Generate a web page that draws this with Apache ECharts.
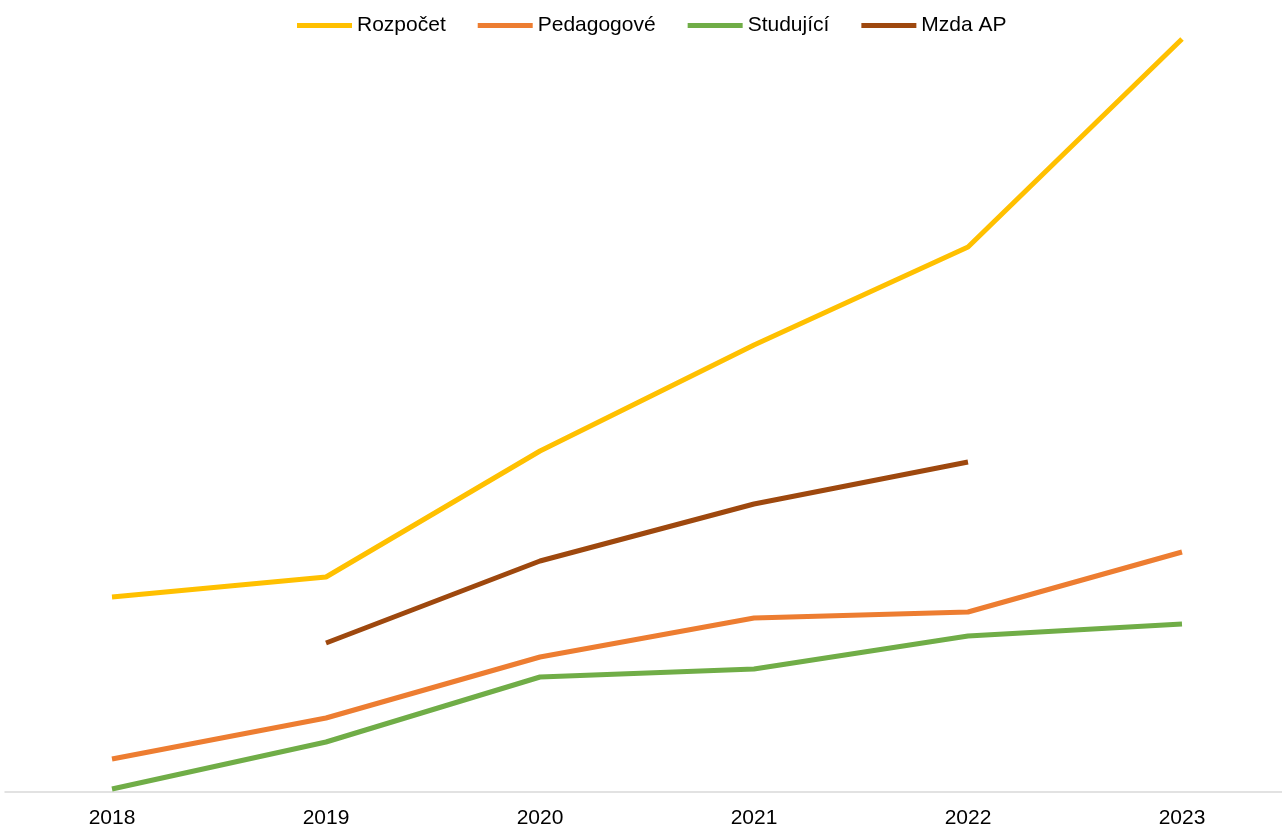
<!DOCTYPE html>
<html>
<head>
<meta charset="utf-8">
<script src="https://cdn.jsdelivr.net/npm/echarts@6/dist/echarts.min.js"></script>
<style>
  html, body { margin: 0; padding: 0; background: #fff; }
  #chart { width: 1282px; height: 827px; }
</style>
</head>
<body>
<div id="chart"></div>
<script>
// values (relative units, axis has no labels)
const years = ['2018', '2019', '2020', '2021', '2022', '2023']
const rozpocet = [195, 215, 341, 447, 545, 753]
const pedagogove = [33, 74, 135, 174, 180, 240]
const studujici = [3, 50, 115, 123, 156, 168]
const mzdaAP = [null, 149, 231, 288, 330, null]

const chart = echarts.init(document.getElementById('chart'))

function line(name, color, data) {
  return {
    name: name,
    type: 'line',
    data: data,
    showSymbol: false,
    symbol: 'none',
    lineStyle: { color: color, width: 5 },
    itemStyle: { color: color },
    emphasis: { disabled: true }
  }
}

chart.setOption({
  animation: false,
  textStyle: { fontFamily: 'Liberation Sans, Arial, sans-serif' },
  legend: {
    left: 292,
    top: 10,
    icon: 'rect',
    itemWidth: 55,
    itemHeight: 5,
    itemGap: 32,
    textStyle: { fontSize: 21, color: '#000' },
    data: ['Rozpočet', 'Pedagogové', 'Studující', 'Mzda AP']
  },
  grid: { left: 5, width: 1284, top: 32, bottom: 35, outerBoundsMode: 'none', containLabel: false },
  xAxis: {
    type: 'category',
    data: years,
    boundaryGap: true,
    axisLine: { lineStyle: { color: '#d9d9d9', width: 1.5 } },
    axisTick: { show: false },
    axisLabel: { fontSize: 21, color: '#000', margin: 16 }
  },
  yAxis: {
    type: 'value',
    min: 0,
    max: 760,
    show: false,
    splitLine: { show: false }
  },
  series: [
    line('Rozpočet', '#FFC000', rozpocet),
    line('Pedagogové', '#ED7D31', pedagogove),
    line('Studující', '#70AD47', studujici),
    line('Mzda AP', '#9E480E', mzdaAP)
  ]
})
</script>
</body>
</html>
